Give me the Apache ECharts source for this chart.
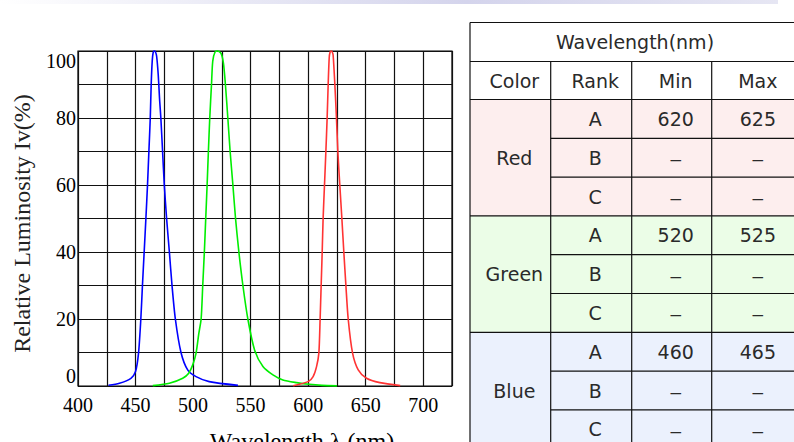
<!DOCTYPE html>
<html>
<head>
<meta charset="utf-8">
<script src="https://cdn.jsdelivr.net/npm/echarts@6/dist/echarts.min.js"></script>
<style>
html,body{margin:0;padding:0;background:#fff;}
#chart{width:794px;height:442px;}
</style>
</head>
<body>
<div id="chart"></div>
<script>
// ---- Data ----
const xTickValues = [400, 450, 500, 550, 600, 650, 700];
const yTickValues = [0, 20, 40, 60, 80, 100];
const blueData = [[426.5,0.2],[436,0.8],[446,2.3],[450,4.3],[452.6,9.8],[454.6,20],[456,30],[457.5,40],[459,50],[460.4,60],[461.6,70],[462.8,80],[463.6,90],[464.5,97],[465.3,99.5],[466.3,100],[467.3,99.7],[468.3,98.5],[469.7,93],[471,85],[472,80],[473.5,70],[475,60],[477,50],[479.4,40],[481.7,30],[484.6,20],[489.5,10],[495.3,4.8],[502.6,2.8],[514,1.3],[539,0.2]];
const greenData = [[465,0.1],[479.4,0.8],[491,2.3],[496.2,3.8],[499.7,6.3],[502.6,9.8],[505,15.7],[507,20],[508.4,30],[509.8,40],[511,50],[512.2,60],[513.3,70],[514.5,80],[516,90],[517.1,97],[519.1,99.7],[521.4,100],[524.3,99.3],[526.4,96.3],[528.1,90],[530.2,80],[532.2,70],[534.6,60],[536.9,50],[539.8,40],[543.3,30],[547.6,20],[553.5,10.7],[560.7,5.8],[569.4,3.3],[578,1.8],[590,1.0],[601,0.5],[612,0.2],[625,0.05]];
const redData = [[587,0.1],[600,1.3],[604.3,2.8],[607.3,5.8],[609.3,9.8],[610.4,20],[611.3,30],[612.2,40],[613,50],[614.2,60],[615.4,70],[616.5,80],[617.4,90],[618.3,98],[619.1,99.7],[620,100],[620.9,99.7],[621.7,98.8],[623.2,90],[624.6,80],[625.8,70],[627.5,60],[629.3,50],[631,40],[632.8,30],[634.8,20],[638.6,9.8],[643.5,4.8],[650.7,2.3],[662.3,1.0],[680,0.1]];

const tableTitle = 'Wavelength(nm)';
const tableHeaders = ['Color', 'Rank', 'Min', 'Max'];
const colorNames = ['Red', 'Green', 'Blue'];
const rankNames = ['A', 'B', 'C'];
const minValues = [['620', '–', '–'], ['520', '–', '–'], ['460', '–', '–']];
const maxValues = [['625', '–', '–'], ['525', '–', '–'], ['465', '–', '–']];
const groupFills = ['#fdeeee', '#ebfde7', '#ebf1fd'];

// ---- Table graphic ----
const colX = [470, 550.7, 631.7, 711.7, 796];
const tTop = 22.5, h1 = 39, h2 = 38, rowH = 38.8;
const row0 = tTop + h1 + h2;
const tBottom = row0 + 9 * rowH;
const textShift = 4;
const g = [];
function rect(x, y, w, h, fill) {
  g.push({type: 'rect', shape: {x: x, y: y, width: w, height: h}, style: {fill: fill}, z: 1});
}
function line(x1, y1, x2, y2) {
  g.push({type: 'line', shape: {x1: x1, y1: y1, x2: x2, y2: y2}, style: {stroke: '#111', lineWidth: 1.2}, z: 3});
}
function text(t, x, y) {
  const dash = t === '–';
  g.push({type: 'text', x: x, y: dash ? y + 1 : y, z: 4,
    style: {text: t, align: 'center', verticalAlign: 'middle', textAlign: 'center', textVerticalAlign: 'middle',
      fontFamily: dash ? 'Liberation Sans' : 'DejaVu Sans', fontSize: 19, fill: '#2a2a2a'}});
}
rect(colX[0], tTop, colX[4] - colX[0], h1 + h2, '#ffffff');
colorNames.forEach(function (c, gi) {
  rect(colX[0], row0 + gi * 3 * rowH, colX[4] - colX[0], 3 * rowH, groupFills[gi]);
});
// header
text(tableTitle, (colX[0] + colX[4]) / 2 + textShift - 2, tTop + h1 / 2);
tableHeaders.forEach(function (h, i) {
  text(h, (colX[i] + colX[i + 1]) / 2 + textShift, tTop + h1 + h2 / 2);
});
colorNames.forEach(function (c, gi) {
  const gy = row0 + gi * 3 * rowH;
  text(c, (colX[0] + colX[1]) / 2 + textShift, gy + 1.5 * rowH);
  rankNames.forEach(function (r, ri) {
    const cy = gy + ri * rowH + rowH / 2;
    text(r, (colX[1] + colX[2]) / 2 + textShift, cy);
    text(minValues[gi][ri], (colX[2] + colX[3]) / 2 + textShift, cy);
    text(maxValues[gi][ri], (colX[3] + colX[4]) / 2 + textShift, cy);
  });
});
// lines
line(colX[0], tTop, colX[4], tTop);
line(colX[0], tTop + h1, colX[4], tTop + h1);
line(colX[0], row0, colX[4], row0);
for (let i = 1; i < 9; i++) {
  const y = row0 + i * rowH;
  line(i % 3 === 0 ? colX[0] : colX[1], y, colX[4], y);
}
line(colX[0], tTop, colX[0], tBottom);
for (let i = 1; i < 4; i++) line(colX[i], tTop + h1, colX[i], tBottom);

// top strip
g.push({type: 'rect', shape: {x: 0, y: 0, width: 778, height: 4}, z: 0,
  style: {fill: new echarts.graphic.LinearGradient(0, 0, 1, 0, [
    {offset: 0, color: '#ffffff'}, {offset: 0.6, color: '#d4d4ec'}, {offset: 1, color: '#e6e6f3'}])}});

// ---- Chart ----
const chart = echarts.init(document.getElementById('chart'), null, {renderer: 'svg'});
const serif = 'Liberation Serif';
chart.setOption({
  animation: false,
  backgroundColor: '#ffffff',
  grid: {left: 78, right: 342, top: 51, bottom: 56, show: true, borderColor: '#000', borderWidth: 1.2,
    containLabel: false, outerBoundsMode: 'none'},
  xAxis: {
    type: 'value', min: 400, max: 725, interval: 25,
    name: 'Wavelength λ (nm)', nameLocation: 'middle', nameGap: 43,
    nameTextStyle: {fontFamily: serif, fontSize: 24, color: '#000', padding: [0, 0, 0, 74]},
    axisLine: {show: false}, axisTick: {show: false},
    axisLabel: {fontFamily: serif, fontSize: 20, color: '#000', margin: 9,
      formatter: function (v) { return xTickValues.indexOf(v) >= 0 ? String(v) : ''; }},
    splitLine: {show: true, lineStyle: {color: '#111', width: 1.2}}
  },
  yAxis: {
    type: 'value', min: 0, max: 100, interval: 10,
    name: 'Relative Luminosity Iv(%)', nameLocation: 'middle', nameGap: 44,
    nameTextStyle: {fontFamily: serif, fontSize: 24, color: '#222', padding: [0, 10, 0, 0]},
    axisLine: {show: false}, axisTick: {show: false},
    axisLabel: {fontFamily: serif, fontSize: 20, color: '#000', margin: 2,
      verticalAlignMaxLabel: 'top', verticalAlignMinLabel: 'bottom',
      formatter: function (v) { return yTickValues.indexOf(v) >= 0 ? String(v) : ''; }},
    splitLine: {show: true, lineStyle: {color: '#111', width: 1.2}}
  },
  graphic: g,
  series: [
    {name: 'Blue', type: 'line', data: blueData, showSymbol: false, smooth: 0.25, clip: false,
      lineStyle: {color: '#0000ff', width: 1.6}, itemStyle: {color: '#0000ff'}, z: 5},
    {name: 'Green', type: 'line', data: greenData, showSymbol: false, smooth: 0.25, clip: false,
      lineStyle: {color: '#00ee00', width: 1.6}, itemStyle: {color: '#00ee00'}, z: 5},
    {name: 'Red', type: 'line', data: redData, showSymbol: false, smooth: 0.25, clip: false,
      lineStyle: {color: '#ff3333', width: 1.6}, itemStyle: {color: '#ff3333'}, z: 5}
  ]
});
</script>
</body>
</html>
